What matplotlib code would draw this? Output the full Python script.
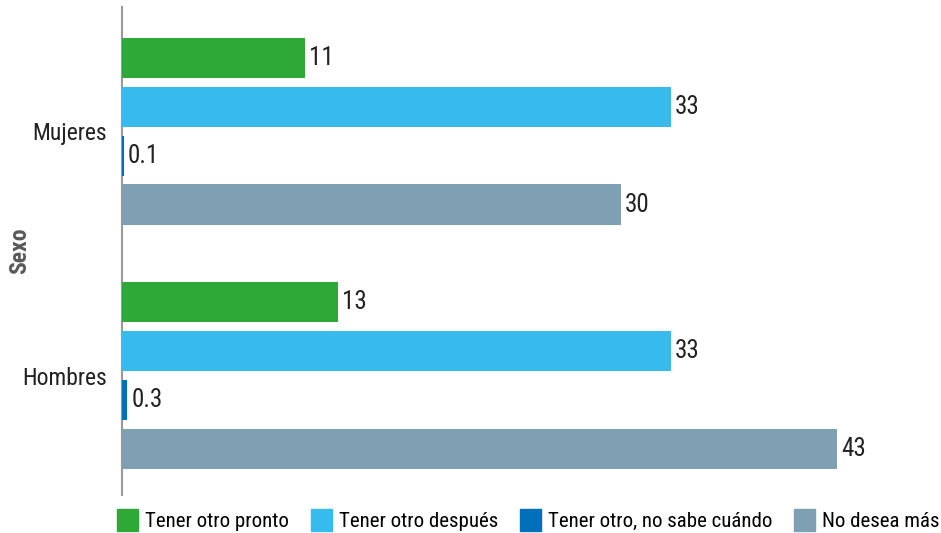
import numpy as np
import matplotlib.pyplot as plt
from matplotlib.patches import Patch

plt.rcParams['font.family'] = ['Roboto Condensed', 'Barlow Condensed', 'DejaVu Sans']

groups = ["Mujeres", "Hombres"]
series = ["Tener otro pronto", "Tener otro después", "Tener otro, no sabe cuándo", "No desea más"]
values = {
    "Mujeres": [11, 33, 0.1, 30],
    "Hombres": [13, 33, 0.3, 43],
}
labels = {
    "Mujeres": ["11", "33", "0.1", "30"],
    "Hombres": ["13", "33", "0.3", "43"],
}
colors = ["#2ea836", "#37bbed", "#0070b8", "#7f9fb3"]

fig = plt.figure(figsize=(9.41, 5.33), dpi=100)
ax = fig.add_axes([122 / 941, 38 / 533, 780 / 941, 488 / 533])

n = len(series)
step = n + 1
for g, grp in enumerate(groups):
    for i in range(n):
        y = g * step + i
        v = values[grp][i]
        ax.barh(y, v, height=0.82, color=colors[i], zorder=2)
        ax.annotate(labels[grp][i], (v, y), xytext=(3, 0), textcoords="offset points",
                    va="center", ha="left", fontsize=18, color="#222222")

ax.set_xlim(0, 46.9)
ax.set_ylim(8.94, -1.04)
centers = [g * step + (n - 1) / 2 for g in range(len(groups))]
ax.set_yticks(centers)
ax.set_yticklabels(groups, fontsize=17, color="#222222")
ax.tick_params(axis="y", length=0, pad=11)
ax.set_xticks([])
for s in ["top", "right", "bottom"]:
    ax.spines[s].set_visible(False)
ax.spines["left"].set_color("#999999")
ax.spines["left"].set_linewidth(1.5)
ax.spines["left"].set_zorder(1)
ax.set_ylabel("Sexo", fontsize=17, fontweight="bold", color="#595959")
ax.yaxis.set_label_coords(-0.116, 0.5)

handles = [Patch(color=c, label=s) for c, s in zip(colors, series)]
fig.legend(handles=handles, loc="lower left", bbox_to_anchor=(109 / 941, -0.012), ncol=4,
           frameon=False, fontsize=15, handlelength=1.0, handleheight=1.2,
           handletextpad=0.35, columnspacing=1.04, borderaxespad=0)

fig.savefig("out.png", dpi=100)
